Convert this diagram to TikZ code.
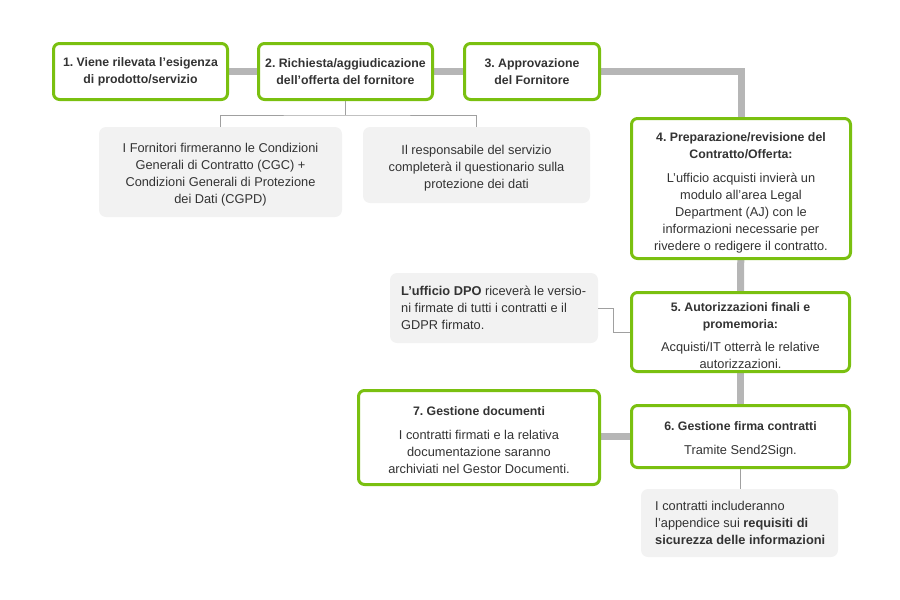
\documentclass[tikz,border=0pt]{standalone}
\usepackage{fontspec}
\setmainfont{Liberation Sans}
\usetikzlibrary{backgrounds,calc}
\definecolor{stepgreen}{RGB}{122,192,16}
\definecolor{infogray}{RGB}{242,242,242}
\definecolor{linegray}{RGB}{182,182,182}
\definecolor{thingray}{RGB}{160,160,160}
\definecolor{textdark}{RGB}{51,51,51}
\newcommand{\ttl}[1]{{\fontsize{12.3}{17}\selectfont\bfseries #1}}
\newcommand{\pushdown}[1]{\rule{0pt}{#1}}
\begin{document}
\frenchspacing
\begin{tikzpicture}[x=1pt,y=-1pt,
  stepbox/.style={draw=stepgreen, line width=3pt, rounded corners=6pt, fill=white,
    align=center, inner sep=0pt, text=textdark,
    font=\fontsize{12.8}{17}\selectfont},
  infobox/.style={fill=infogray, rounded corners=7pt, inner sep=0pt, text=textdark,
    font=\fontsize{12.8}{17}\selectfont},
  infotext/.style={align=left, anchor=west, inner sep=0pt, text=textdark,
    font=\fontsize{12.8}{17}\selectfont},
  flow/.style={draw=linegray, line width=7pt},
  thin/.style={draw=thingray, line width=1pt}]
\useasboundingbox (0,0) rectangle (900,600);

\node[stepbox, minimum width=174pt, minimum height=56pt] (b1) at (140.5,71.5)
  {\ttl{1. Viene rilevata l'esigenza}\\\ttl{di prodotto/servizio}};
\node[stepbox, minimum width=174pt, minimum height=56pt] (b2) at (345.5,71.5)
  {\ttl{2. Richiesta/aggiudicazione}\\\ttl{dell'offerta del fornitore}};
\node[stepbox, minimum width=135pt, minimum height=56pt] (b3) at (532,71.5)
  {\ttl{3. Approvazione}\\\ttl{del Fornitore}};
\node[stepbox, minimum width=219pt, minimum height=140pt] (b4) at (741,188.5)
  {\pushdown{17pt}\ttl{4. Preparazione/revisione del}\\\ttl{Contratto/Offerta:}\\[7pt]
   L'ufficio acquisti invierà un\\modulo all'area Legal\\Department (AJ) con le\\
   informazioni necessarie per\\rivedere o redigere il contratto.};
\node[stepbox, minimum width=218pt, minimum height=79pt] (b5) at (740.5,332)
  {\pushdown{17pt}\ttl{5. Autorizzazioni finali e}\\\ttl{promemoria:}\\[6pt]
   Acquisti/IT otterrà le relative\\autorizzazioni.};
\node[stepbox, minimum width=218pt, minimum height=62pt] (b6) at (740.5,436.5)
  {\pushdown{14pt}\ttl{6. Gestione firma contratti}\\[7pt]Tramite Send2Sign.};
\node[stepbox, minimum width=241pt, minimum height=94pt] (b7) at (479,437.5)
  {\pushdown{14.5pt}\ttl{7. Gestione documenti}\\[7pt]I contratti firmati e la relativa\\
   documentazione saranno\\archiviati nel Gestor Documenti.};

\node[infobox, align=center, minimum width=243pt, minimum height=90pt] (iA) at (220.5,172)
  {\pushdown{15pt}I Fornitori firmeranno le Condizioni\\Generali di Contratto (CGC) +\\
   Condizioni Generali di Protezione\\dei Dati (CGPD)};
\node[infobox, align=center, minimum width=227pt, minimum height=76pt] (iB) at (476.5,165)
  {\pushdown{15pt}Il responsabile del servizio\\completerà il questionario sulla\\protezione dei dati};
\node[infobox, minimum width=208pt, minimum height=70pt] (iC) at (494,308) {};
\node[infotext] (tC) at (401,308)
  {\textbf{L'ufficio DPO} riceverà le versio-\\ni firmate di tutti i contratti e il\\GDPR firmato.};
\node[infobox, minimum width=197pt, minimum height=68pt] (iD) at (739.5,523) {};
\node[infotext] (tD) at (655,523)
  {I contratti includeranno\\l'appendice sui \textbf{requisiti di}\\\textbf{sicurezza delle informazioni}};

\coordinate (split) at ($(b2.south)+(0,14)$);
\begin{scope}[on background layer]
  \draw[flow] (b1) -- (b2);
  \draw[flow] (b2) -- (b3);
  \draw[flow] (b3.center) -| (b4.center);
  \draw[flow] (b4) -- (b5);
  \draw[flow] (b5) -- (b6);
  \draw[flow] (b7.center |- b6.center) -- (b6.center);
\end{scope}
\draw[thin] (b2.south) -- (split);
\draw[thin] (iA.north) |- (split) -| (iB.north);
\draw[thin] (iC.east) -- ++(15,0) |- (b5.west);
\draw[thin] (b6.south) -- (b6.south |- iD.north);
\end{tikzpicture}
\end{document}
